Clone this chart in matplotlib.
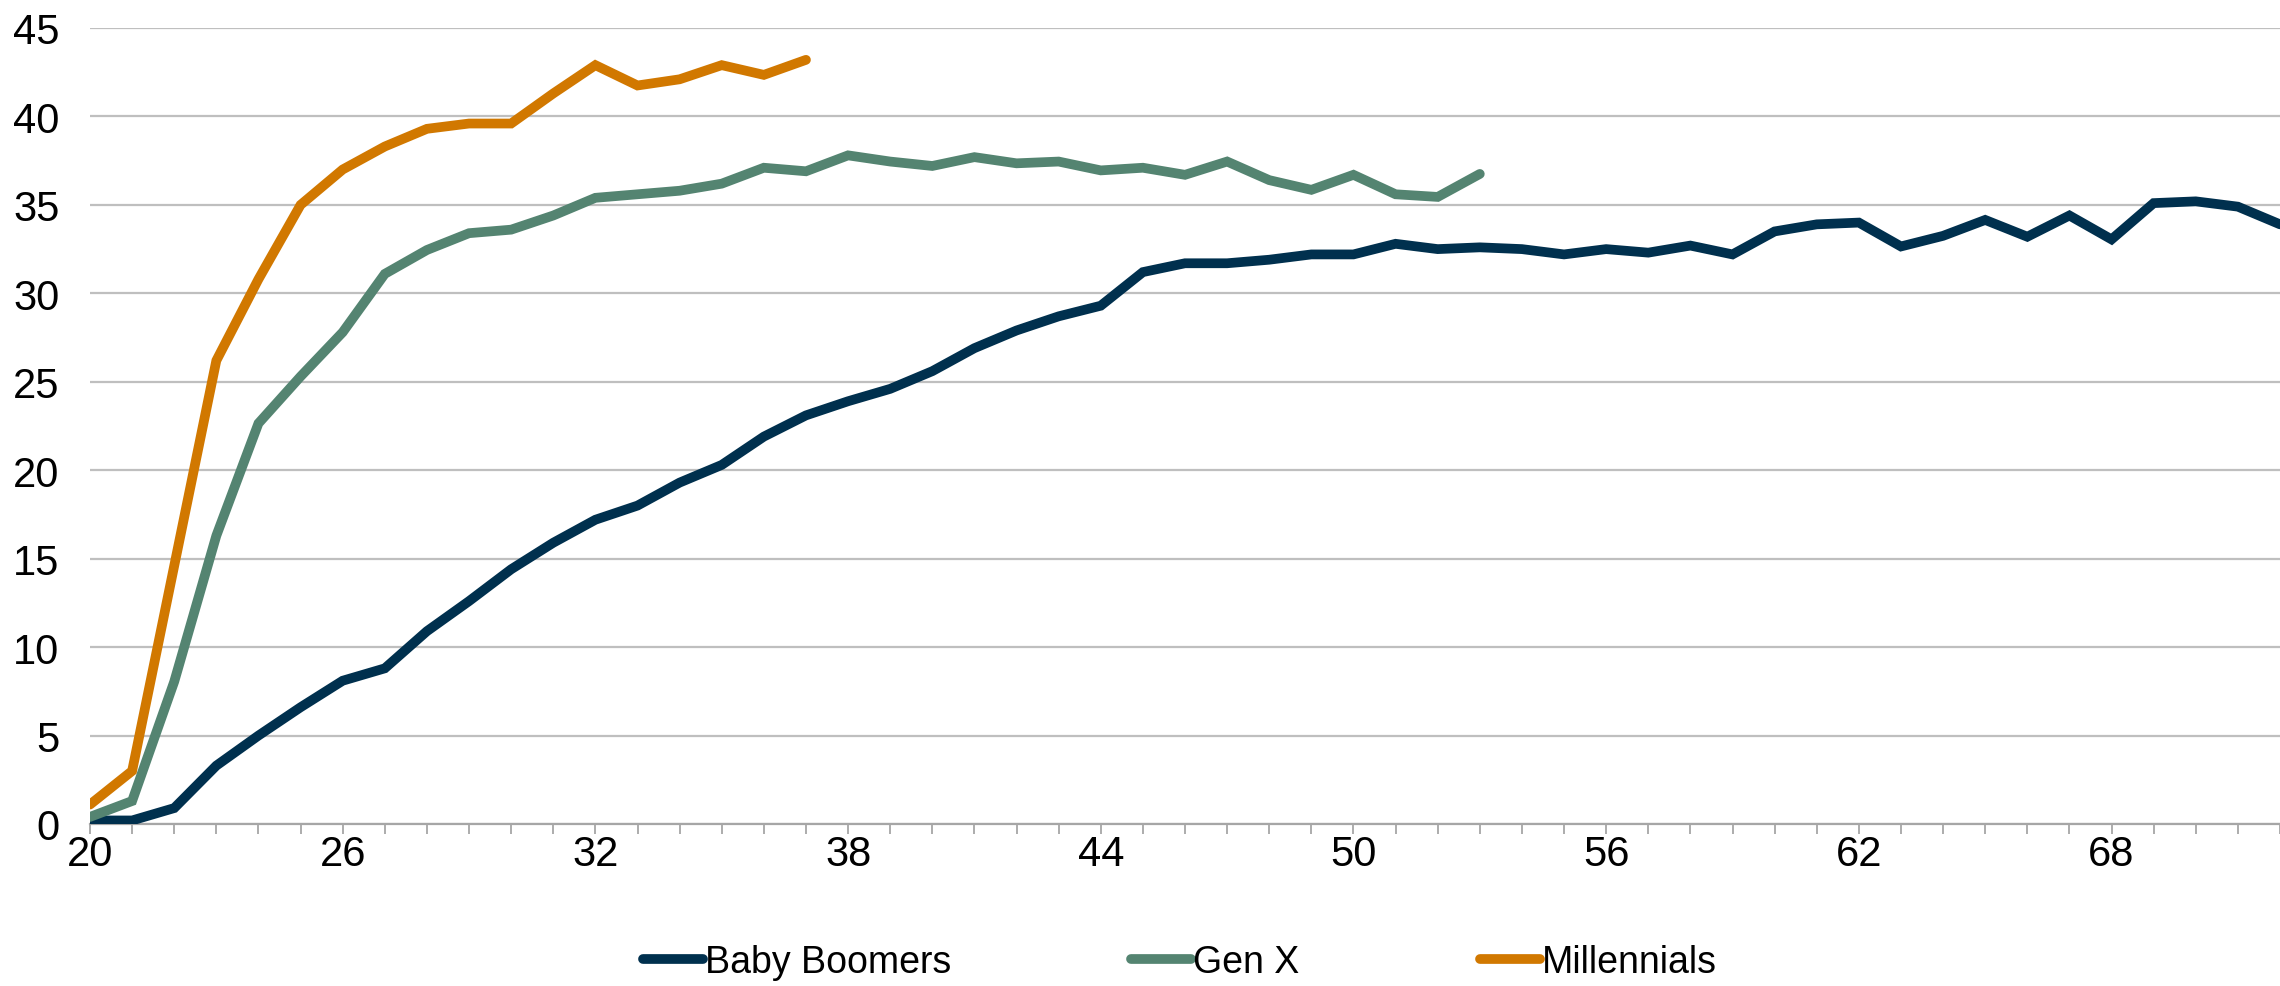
import numpy as np
import matplotlib
matplotlib.use("Agg")
import matplotlib.pyplot as plt

# Share of cohort (%) by age
ages_boomers = list(range(20, 73))
baby_boomers = [0.2, 0.2, 0.9, 3.3, 5.0, 6.6, 8.1, 8.8, 10.9, 12.6,
                14.4, 15.9, 17.2, 18.0, 19.3, 20.3, 21.9, 23.1, 23.9, 24.6,
                25.6, 26.9, 27.9, 28.7, 29.3, 31.2, 31.7, 31.7, 31.9, 32.2,
                32.2, 32.8, 32.5, 32.6, 32.5, 32.2, 32.5, 32.3, 32.7, 32.2,
                33.5, 33.9, 34.0, 32.65, 33.25, 34.15, 33.2, 34.4, 33.05, 35.1,
                35.2, 34.9, 33.9]

ages_genx = list(range(20, 54))
gen_x = [0.4, 1.3, 8.05, 16.3, 22.65, 25.3, 27.8, 31.1, 32.45, 33.4,
         33.6, 34.4, 35.4, 35.6, 35.8, 36.2, 37.1, 36.9, 37.8, 37.45,
         37.2, 37.7, 37.35, 37.45, 36.95, 37.1, 36.7, 37.45, 36.4, 35.85,
         36.7, 35.6, 35.45, 36.75]

ages_millennials = list(range(20, 38))
millennials = [1.1, 3.0, 14.6, 26.2, 30.8, 35.0, 37.0, 38.3, 39.3, 39.6,
               39.6, 41.3, 42.9, 41.75, 42.1, 42.9, 42.35, 43.2]

series = [
    ("Baby Boomers", ages_boomers, baby_boomers, "#00304E"),
    ("Gen X", ages_genx, gen_x, "#548471"),
    ("Millennials", ages_millennials, millennials, "#D17800"),
]

plt.rcParams['font.family'] = ['Liberation Sans', 'DejaVu Sans']
fs_ticks = 30
fs_legend = 27

fig = plt.figure(figsize=(22.8, 9.87), dpi=100)
ax = fig.add_axes([90 / 2280, (987 - 825) / 987, 1 - 90 / 2280, (825 - 29) / 987])

for name, x, y, c in series:
    ax.plot(x, y, color=c, lw=7, label=name, solid_capstyle='round',
            solid_joinstyle='miter', zorder=3)

ax.set_xlim(20, 72)
ax.set_ylim(0, 45)
ax.set_yticks(np.arange(0, 46, 5))
ax.set_xticks(np.arange(20, 72, 6))
ax.set_xticks(np.arange(20, 73, 1), minor=True)

ax.grid(axis='y', color='#BFBFBF', lw=1.6, zorder=0)
for s in ['top', 'right', 'left']:
    ax.spines[s].set_visible(False)
ax.spines['bottom'].set_color('#A6A6A6')
ax.spines['bottom'].set_linewidth(1.6)

ax.tick_params(axis='y', length=0, pad=22, labelsize=fs_ticks)
ax.tick_params(axis='x', which='both', direction='out', length=7,
               width=1.3, color='#A6A6A6', labelsize=fs_ticks, pad=0)
ax.tick_params(axis='x', which='minor', labelbottom=False)

fig.legend(loc='center', bbox_to_anchor=(0.5175, 0.024), ncol=3, frameon=False,
           fontsize=fs_legend, handlelength=1.6, handletextpad=0.05,
           columnspacing=4.8)

fig.savefig('out.png', dpi=100)
